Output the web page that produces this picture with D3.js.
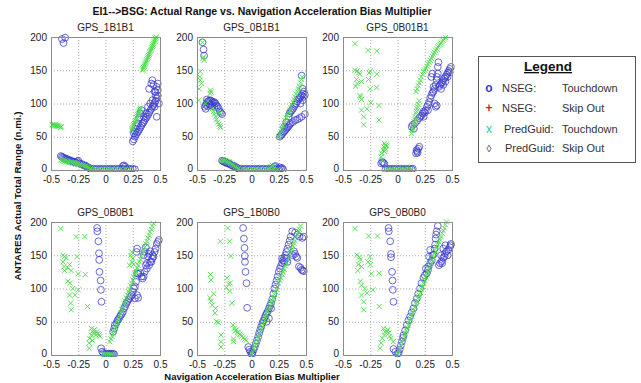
<!DOCTYPE html>
<html><head><meta charset="utf-8">
<script src="https://cdn.jsdelivr.net/npm/d3@7"></script>
<style>body{margin:0;background:#fff}svg{display:block;font-family:Arial,"Liberation Sans",sans-serif}</style>
</head><body><svg id="c" width="641" height="383"></svg>
<script>
const titles = ["GPS_1B1B1","GPS_0B1B1","GPS_0B01B1","GPS_0B0B1","GPS_1B0B0","GPS_0B0B0"];
const xTicks = [-0.5,-0.25,0,0.25,0.5];
const yTicks = [0,50,100,150,200];
const legendRows = [["o","NSEG:","Touchdown"],["+","NSEG:","Skip Out"],["x","PredGuid:","Touchdown"],["\u25CA","PredGuid:","Skip Out"]];

// Panel 1 GPS_1B1B1
const nseg1 = [[-0.40,197],[-0.37,199],[-0.385,191],
[-0.41,21],[-0.4,20],[-0.39,19],[-0.38,18],[-0.37,17],[-0.36,17],[-0.35,16],[-0.34,15],[-0.33,15],[-0.32,14],[-0.31,13],[-0.3,13],[-0.29,12],[-0.28,12],[-0.27,11],[-0.26,13],[-0.25,14],[-0.24,10],[-0.23,9],[-0.22,9],[-0.21,8],[-0.2,7],[-0.19,7],[-0.18,6],[-0.17,5],[-0.16,4],[-0.15,3],[-0.14,2],
[-0.13,1],[-0.11,2],[-0.09,1],[-0.07,2],[-0.05,1],[-0.03,2],[-0.01,1],[0.01,2],[0.03,1],[0.05,2],[0.07,1],[0.09,2],[0.11,1],[0.13,2],[0.15,1],[0.17,2],[0.19,1],[0.21,2],[0.23,1],[0.25,2],[0.27,1],[0.16,6],[0.17,7],[0.18,5],
[0.25,43],[0.26,46],[0.27,50],[0.28,53],[0.29,56],[0.3,58],[0.31,61],[0.32,64],[0.33,67],[0.34,70],[0.35,72],[0.36,75],[0.37,78],[0.38,80],[0.39,83],[0.4,86],[0.41,89],[0.42,92],[0.43,95],[0.44,98],[0.45,101],[0.46,104],[0.47,108],[0.48,112],
[0.26,55],[0.27,58],[0.28,62],[0.29,66],[0.3,70],[0.31,78],[0.32,85],[0.33,90],[0.35,80],[0.37,85],[0.39,95],[0.4,122],[0.42,130],[0.43,135],[0.44,128],[0.45,118],[0.46,112],[0.47,125],[0.48,130],[0.49,100],[0.47,80],[0.45,95],[0.41,100],[0.43,105],[0.46,117],[0.48,120]];
const pred1 = [[-0.49,68],[-0.48,68],[-0.47,67],[-0.465,68],[-0.46,67],[-0.45,67],[-0.445,66],[-0.44,66],[-0.43,66],[-0.42,65],[-0.41,64],[-0.405,65],
[-0.41,15],[-0.4,14],[-0.39,14],[-0.38,13],[-0.37,14],[-0.36,12],[-0.35,13],[-0.34,12],[-0.33,11],[-0.32,12],[-0.31,11],[-0.3,10],[-0.29,11],[-0.28,10],[-0.27,9],[-0.26,10],[-0.25,9],[-0.24,8],[-0.23,9],[-0.22,8],[-0.21,7],[-0.2,8],[-0.19,6],[-0.18,6],[-0.17,5],[-0.16,4],[-0.15,3],[-0.14,2],[-0.13,1],
[-0.12,0],[-0.1,1],[-0.08,0],[-0.06,1],[-0.04,0],[-0.02,1],[0,0],[0.02,1],[0.04,0],[0.06,1],[0.08,0],[0.1,1],[0.12,0],[0.14,1],[0.16,0],[0.18,1],[0.2,0],[0.22,1],
[0.24,60],[0.245,62],[0.25,64],[0.255,66],[0.26,68],[0.265,70],[0.27,72],[0.275,74],[0.28,76],[0.285,79],[0.29,81],[0.295,83],[0.3,85],[0.305,87],[0.31,89],[0.315,91],[0.32,93],
[0.34,150],[0.345,152],[0.35,154],[0.355,156],[0.36,158],[0.365,160],[0.37,162],[0.375,164],[0.38,166],[0.385,168],[0.39,170],[0.395,172],[0.4,174],[0.405,176],[0.41,178],[0.415,180],[0.42,182],[0.425,184],[0.43,186],[0.435,188],[0.44,190],[0.445,192],[0.45,194],[0.455,196],[0.46,198],[0.465,200]];

// Panel 2 GPS_0B1B1
const nseg2 = [[-0.45,192],[-0.44,181],[-0.435,172],
[-0.43,95],[-0.42,98],[-0.41,101],[-0.4,103],[-0.39,104],[-0.38,105],[-0.37,104],[-0.36,103],[-0.35,101],[-0.34,102],[-0.33,100],[-0.32,97],[-0.31,95],[-0.3,92],[-0.29,88],[-0.28,86],[-0.27,84],[-0.42,92],[-0.4,96],[-0.38,98],[-0.36,96],[-0.34,95],[-0.41,106],[-0.39,100],[-0.37,99],
[-0.27,14],[-0.26,13],[-0.25,12],[-0.24,12],[-0.23,11],[-0.22,10],[-0.21,10],[-0.2,9],[-0.19,8],[-0.18,7],[-0.17,6],[-0.16,6],[-0.15,5],[-0.14,4],[-0.13,3],[-0.12,2],
[-0.11,1],[-0.09,2],[-0.07,1],[-0.05,2],[-0.03,1],[-0.01,2],[0.01,1],[0.03,2],[0.05,1],[0.07,2],[0.09,1],[0.11,2],[0.13,1],[0.15,2],[0.17,1],[0.19,2],[0.21,1],[0.23,2],[0.25,1],[0.27,2],[0.29,1],[0.21,5],[0.22,6],[0.26,4],[0.28,3],
[0.26,50],[0.27,52],[0.28,54],[0.29,56],[0.3,58],[0.31,60],[0.32,62],[0.33,64],[0.34,66],[0.35,68],[0.36,70],[0.38,72],[0.4,75],[0.42,76],[0.44,78],[0.46,80],[0.49,84],
[0.3,65],[0.32,72],[0.34,80],[0.35,85],[0.36,88],[0.37,90],[0.38,92],[0.39,95],[0.4,98],[0.41,100],[0.42,103],[0.43,106],[0.44,108],[0.45,110],[0.46,112],[0.47,115],[0.48,118],[0.47,122],[0.46,142],[0.48,110],[0.49,113],[0.47,105],[0.45,100]];
const pred2 = [[-0.45,192],[-0.44,170],[-0.435,165],[-0.445,168],[-0.47,148],[-0.475,140],[-0.47,135],[-0.48,122],[-0.485,105],[-0.46,130],[-0.375,120],[-0.38,115],[-0.37,117],
[-0.36,92],[-0.35,88],[-0.34,84],[-0.33,80],[-0.32,76],[-0.31,72],[-0.3,69],[-0.29,66],[-0.285,64],[-0.3,88],[-0.29,85],[-0.42,100],[-0.4,104],
[-0.27,16],[-0.26,15],[-0.25,14],[-0.24,14],[-0.23,13],[-0.22,12],[-0.21,12],[-0.2,11],[-0.19,10],[-0.18,9],[-0.17,8],[-0.16,7],[-0.15,5],[-0.14,4],[-0.13,3],[-0.12,2],
[-0.1,0],[-0.08,1],[-0.06,0],[-0.04,1],[-0.02,0],[0,1],[0.02,0],[0.04,1],[0.06,0],[0.08,1],[0.1,0],[0.12,1],[0.14,0],[0.16,1],[0.18,0],[0.2,1],[0.22,0],[0.24,1],[0.19,7],[0.2,6],[0.18,5],
[0.25,50],[0.26,54],[0.27,58],[0.28,62],[0.29,66],[0.3,70],[0.31,74],[0.32,78],[0.33,82],[0.34,86],[0.35,90],[0.36,94],[0.37,98],[0.38,102],[0.39,106],[0.4,110],[0.41,114],[0.42,118],[0.43,122],[0.44,126],[0.45,131],[0.46,136],[0.465,140]];

// Panel 3 GPS_0B01B1
const nseg3 = [[-0.13,11],[-0.15,10],[-0.14,12],[-0.12,9],
[-0.11,1],[-0.09,2],[-0.07,1],[-0.05,2],[-0.03,1],[-0.01,2],[0.01,1],[0.03,2],[0.05,1],[0.07,2],[0.09,1],[0.11,2],[0.13,1],[0.14,2],
[0.17,25],[0.18,28],[0.19,32],[0.2,35],[0.175,30],[0.185,26],
[0.13,65],[0.14,68],[0.15,62],
[0.16,70],[0.18,74],[0.2,78],[0.21,80],[0.22,82],[0.23,85],[0.24,88],[0.25,86],[0.26,90],[0.27,95],[0.28,98],[0.29,102],[0.3,108],[0.31,112],[0.32,116],[0.33,118],[0.34,122],[0.35,128],[0.36,135],[0.37,145],[0.37,155],[0.375,162],[0.36,140],[0.33,125],[0.31,140],[0.32,145],[0.35,95],[0.36,97],[0.34,100],[0.24,80],[0.28,90],
[0.38,125],[0.39,128],[0.4,130],[0.41,132],[0.42,135],[0.43,138],[0.44,140],[0.45,143],[0.46,146],[0.47,149],[0.48,152],[0.49,155],[0.4,122],[0.42,128],[0.44,133],[0.46,140],[0.48,147]];
const pred3 = [[-0.39,190],[-0.39,150],[-0.37,149],[-0.355,146],[-0.345,144],[-0.375,136],[-0.37,130],[-0.385,126],[-0.33,133],[-0.345,112],[-0.33,106],[-0.33,90],[-0.31,80],[-0.31,68],[-0.27,180],[-0.19,179],[-0.25,149],[-0.265,136],[-0.25,122],[-0.28,92],[-0.245,101],[-0.19,144],[-0.19,124],[-0.17,97],[-0.17,75],[-0.34,110],[-0.26,146],
[-0.12,40],[-0.11,37],[-0.125,35],[-0.1,36],[-0.105,38],[-0.115,33],[-0.13,30],[-0.145,25],[-0.15,20],[-0.14,15],[-0.11,30],[-0.12,28],
[-0.1,0],[-0.085,1],[-0.07,0],[-0.055,1],[-0.04,0],[-0.025,1],[-0.01,0],[0.005,1],[0.02,0],[0.035,1],[0.05,0],[0.065,1],[0.08,0],[0.095,1],[0.11,0],[0.125,1],
[0.13,55],[0.14,60],[0.145,63],[0.15,68],[0.155,72],[0.16,76],[0.165,80],[0.17,85],[0.175,88],[0.18,92],[0.185,95],[0.19,99],[0.2,104],
[0.17,118],[0.18,122],[0.19,127],[0.2,131],[0.21,135],[0.22,140],[0.23,144],[0.24,148],[0.25,150],[0.26,153],[0.27,156],[0.28,159],[0.29,162],[0.3,165],[0.31,168],[0.32,171],[0.33,174],[0.34,177],[0.35,180],[0.36,182],[0.37,185],[0.38,187],[0.39,189],[0.4,191],[0.41,193],[0.42,195],[0.43,197],[0.44,199]];

// Panel 4 GPS_0B0B1
const nseg4 = [[-0.077,191],[-0.075,186],[-0.065,171],[-0.06,153],[-0.058,143],[-0.055,125],[-0.045,112],[-0.042,98],[-0.037,80],
[-0.04,10],[-0.03,5],[-0.02,3],
[0,1],[0.01,2],[0.02,1],[0.03,2],[0.04,1],[0.05,2],[0.06,1],[0.07,2],[0.08,1],
[0.07,35],[0.08,40],[0.086,45],[0.1,48],[0.11,52],[0.12,54],[0.13,57],[0.14,60],[0.15,62],[0.16,65],[0.17,70],[0.18,73],[0.19,77],[0.2,80],[0.21,83],[0.22,85],[0.23,88],[0.24,90],[0.25,95],[0.26,100],[0.27,103],[0.28,110],[0.29,123],[0.3,122],[0.32,123],[0.33,118],[0.34,115],[0.35,118],[0.36,125],[0.37,135],[0.38,138],[0.39,148],[0.4,152],[0.41,156],[0.42,140],[0.43,145],[0.44,148],[0.45,155],[0.46,160],[0.47,167],[0.48,170],[0.49,173],[0.3,86],[0.29,90],[0.27,85],[0.4,135],[0.38,130],[0.35,150],[0.36,155],[0.37,162],[0.285,155],[0.29,160],[0.41,140],[0.43,150]];
const pred4 = [[-0.41,190],[-0.39,150],[-0.375,148],[-0.36,146],[-0.39,140],[-0.375,127],[-0.345,131],[-0.33,136],[-0.315,127],[-0.345,111],[-0.325,108],[-0.33,90],[-0.3,100],[-0.32,78],[-0.315,68],[-0.27,178],[-0.19,178],[-0.26,148],[-0.25,122],[-0.28,90],[-0.25,98],[-0.185,121],[-0.165,73],[-0.38,133],
[-0.13,40],[-0.12,35],[-0.11,37],[-0.1,38],[-0.09,30],[-0.145,25],[-0.15,18],[-0.15,10],[-0.05,28],[-0.08,35],[-0.07,32],[-0.06,30],[-0.1,33],[-0.13,30],[-0.12,22],
[-0.02,1],[-0.01,0],[0,1],[0.01,0],[0.02,1],[0.03,0],[0.04,1],[0.05,0],[0.06,1],
[0.04,20],[0.05,24],[0.06,28],[0.07,32],[0.08,36],[0.09,41],[0.1,45],[0.11,50],[0.12,54],[0.13,59],[0.14,63],[0.15,68],[0.16,72],[0.17,77],[0.18,81],[0.19,86],[0.2,90],[0.21,95],[0.22,99],[0.23,104],[0.24,108],[0.25,113],[0.26,117],[0.27,122],[0.28,126],[0.29,131],[0.3,135],[0.31,140],[0.32,144],[0.33,149],[0.34,153],[0.35,158],[0.36,162],[0.37,167],[0.38,171],[0.39,176],[0.4,180],[0.41,185],[0.42,189],[0.43,194],[0.44,198],
[0.23,150],[0.25,145],[0.24,140],[0.22,135],[0.24,155],[0.26,136]];

// Panel 5 GPS_1B0B0
const nseg5 = [[-0.077,191],[-0.07,175],[-0.064,161],[-0.062,149],[-0.06,140],[-0.055,125],[-0.046,108],[-0.04,71],
[-0.03,12],[-0.02,8],[-0.01,5],[0,2],[0.005,1],
[0.01,4],[0.02,8],[0.03,12],[0.04,17],[0.05,22],[0.06,27],[0.07,33],[0.08,38],[0.09,43],[0.1,48],[0.11,52],[0.12,56],[0.13,60],[0.14,63],[0.15,66],[0.16,70],[0.17,74],[0.18,78],[0.19,84],[0.2,92],[0.21,100],[0.22,106],[0.23,112],[0.24,118],[0.25,125],[0.26,130],[0.27,134],[0.28,138],[0.29,142],[0.3,146],[0.31,150],[0.32,155],[0.33,160],[0.34,166],[0.35,172],[0.36,178],[0.14,50],[0.16,55],[0.18,70],[0.3,140],[0.32,145],[0.28,145],[0.33,140],
[0.374,186],[0.4,184],[0.42,181],[0.44,178],[0.466,176],[0.48,178],[0.39,156],[0.4,152],[0.42,146],[0.435,133],[0.45,131],[0.46,128],[0.47,127],[0.48,126],[0.38,150],[0.41,148]];
const pred5 = [[-0.377,121],[-0.37,113],[-0.38,86],[-0.37,81],[-0.347,92],[-0.33,70],[-0.335,63],[-0.32,50],[-0.305,49],[-0.28,30],[-0.28,20],[-0.28,12],[-0.285,171],[-0.218,191],[-0.2,171],[-0.19,149],[-0.224,116],[-0.21,107],[-0.2,96],[-0.18,78],[-0.23,101],[-0.195,108],[-0.36,75],
[-0.17,45],[-0.16,40],[-0.147,36],[-0.13,34],[-0.12,33],[-0.1,30],[-0.09,28],[-0.077,26],[-0.06,24],[-0.05,22],[-0.165,20],[-0.165,24],[-0.14,38],[-0.11,31],
[0,2],[0.01,5],[0.02,9],[0.03,13],[0.04,17],[0.05,22],[0.06,26],[0.07,30],[0.08,35],[0.09,39],[0.1,43],[0.11,48],[0.12,52],[0.13,56],[0.14,60],[0.15,65],[0.16,69],[0.17,73],[0.18,78],[0.19,82],[0.2,86],[0.21,91],[0.22,95],[0.23,99],[0.24,103],[0.25,108],[0.26,112],[0.27,116],[0.28,121],[0.29,125],[0.3,129],[0.31,134],[0.32,138],[0.33,142],[0.34,146],[0.35,151],[0.36,155],[0.37,159],[0.38,164],[0.39,168],[0.4,172],[0.41,177],[0.42,181],[0.43,185],[0.44,189],[0.45,194]];

// Panel 6 GPS_0B0B0
const nseg6 = [[-0.082,191],[-0.08,186],[-0.067,171],[-0.06,152],[-0.06,147],[-0.05,125],[-0.046,112],[-0.043,98],[-0.037,80],
[-0.037,9],[-0.02,5],[0,2],
[0.01,3],[0.02,8],[0.03,14],[0.04,20],[0.05,26],[0.055,30],[0.07,37],[0.085,45],[0.1,52],[0.116,58],[0.13,64],[0.146,70],[0.16,78],[0.177,85],[0.19,92],[0.207,100],[0.22,108],[0.238,116],[0.25,120],[0.268,123],[0.283,133],[0.3,138],[0.314,142],[0.33,151],[0.34,160],[0.345,166],[0.35,175],[0.354,181],[0.36,186],[0.37,194],[0.3,158],[0.29,148],[0.32,150],[0.26,130],[0.28,128],
[0.38,135],[0.39,138],[0.405,141],[0.42,146],[0.436,153],[0.45,156],[0.466,158],[0.48,162],[0.488,165],[0.49,167],[0.4,150],[0.42,160],[0.44,165],[0.41,138],[0.43,148],[0.46,150]];
const pred6 = [[-0.39,190],[-0.37,150],[-0.35,147],[-0.34,143],[-0.36,136],[-0.365,127],[-0.33,133],[-0.34,111],[-0.33,105],[-0.33,90],[-0.3,100],[-0.31,80],[-0.31,68],[-0.265,179],[-0.183,179],[-0.25,148],[-0.25,136],[-0.24,122],[-0.28,93],[-0.225,98],[-0.168,123],[-0.168,73],[-0.27,140],
[-0.128,40],[-0.115,35],[-0.09,38],[-0.08,33],[-0.14,25],[-0.15,18],[-0.16,10],[-0.07,28],[-0.04,20],[-0.1,36],[-0.12,30],[-0.06,25],
[0,2],[0.01,6],[0.02,10],[0.03,14],[0.04,19],[0.05,23],[0.06,28],[0.07,32],[0.08,36],[0.09,41],[0.1,45],[0.11,50],[0.12,54],[0.13,59],[0.14,63],[0.15,68],[0.16,72],[0.17,77],[0.18,81],[0.19,86],[0.2,90],[0.21,94],[0.22,99],[0.23,103],[0.24,108],[0.25,112],[0.26,117],[0.27,121],[0.28,126],[0.29,130],[0.3,135],[0.31,139],[0.32,143],[0.33,147],[0.34,152],[0.35,156],[0.36,161],[0.37,165],[0.38,170],[0.39,174],[0.4,178],[0.41,183],[0.42,187],[0.43,191],[0.44,196],[0.45,200]];

const nsegSets = [nseg1,nseg2,nseg3,nseg4,nseg5,nseg6];
const predSets = [pred1,pred2,pred3,pred4,pred5,pred6];

const svg = d3.select("#c");
const colLeft = [51,197,343], rowTop = [37,222], pw = 109, ph = 133;
const blue = "#3a3acc", green = "#4cdc4c", axisCol = "#8c8c8c", txt = "#222";

titles.forEach((t,i)=>{
  const c = i%3, r = Math.floor(i/3);
  const g = svg.append("g").attr("transform",`translate(${colLeft[c]},${rowTop[r]})`);
  const x = d3.scaleLinear().domain([-0.5,0.5]).range([0,pw]);
  const y = d3.scaleLinear().domain([0,200]).range([ph,0]);
  g.append("g").selectAll("line").data(xTicks.slice(1,-1)).join("line")
    .attr("x1",d=>x(d)+0.5).attr("x2",d=>x(d)+0.5).attr("y1",0).attr("y2",ph)
    .attr("stroke","#aaa").attr("stroke-dasharray","1,2");
  g.append("g").selectAll("line").data(yTicks.slice(1,-1)).join("line")
    .attr("y1",d=>y(d)+0.5).attr("y2",d=>y(d)+0.5).attr("x1",0).attr("x2",pw)
    .attr("stroke","#aaa").attr("stroke-dasharray","1,2");
  g.append("clipPath").attr("id","cp"+i).append("rect").attr("x",-4).attr("y",-4).attr("width",pw+8).attr("height",ph+6);
  const m = g.append("g").attr("clip-path",`url(#cp${i})`);
  m.selectAll("circle").data(nsegSets[i]).join("circle")
    .attr("cx",d=>x(d[0])).attr("cy",d=>y(d[1])).attr("r",3.4)
    .attr("fill","none").attr("stroke",blue).attr("stroke-width",0.9).attr("stroke-opacity",0.85);
  m.selectAll("path").data(predSets[i]).join("path")
    .attr("d",d=>{const cx=x(d[0]),cy=y(d[1]),s=2.6;return `M${cx-s},${cy-s}L${cx+s},${cy+s}M${cx-s},${cy+s}L${cx+s},${cy-s}`;})
    .attr("stroke",green).attr("stroke-width",0.9).attr("fill","none");
  const ax = d3.axisBottom(x).tickValues(xTicks).tickFormat(d=>d===0?"0":String(d)).tickSize(0).tickPadding(6);
  const ay = d3.axisLeft(y).tickValues(yTicks).tickSize(0).tickPadding(4);
  const gx = g.append("g").attr("transform",`translate(0,${ph})`).call(ax);
  const gy = g.append("g").call(ay);
  [gx,gy].forEach(a=>{a.select(".domain").remove();a.selectAll("text").attr("fill",txt).style("font-size","10px").style("font-family","Arial,'Liberation Sans',sans-serif");});
  gy.selectAll(".tick").filter(d=>d===0).select("text").attr("dy","0.1em");
  g.append("rect").attr("x",0.5).attr("y",0.5).attr("width",pw).attr("height",ph).attr("fill","none").attr("stroke",axisCol);
  g.append("text").attr("x",pw/2).attr("y",-6).attr("text-anchor","middle").attr("fill",txt).style("font-size","10px").text(t);
});

svg.append("text").attr("x",262).attr("y",15).attr("text-anchor","middle").attr("font-weight","bold").style("font-size","10.5px").attr("fill","#111")
  .text("EI1-->BSG: Actual Range vs. Navigation Acceleration Bias Multiplier");
svg.append("text").attr("transform","translate(21,196) rotate(-90)").attr("text-anchor","middle").attr("font-weight","bold").style("font-size","9.8px").attr("fill","#111")
  .text("ANTARES Actual Total Range (n.mi.)");
svg.append("text").attr("x",252).attr("y",380).attr("text-anchor","middle").attr("font-weight","bold").style("font-size","9.5px").attr("fill","#111")
  .text("Navigation Acceleration Bias Multiplier");

const lg = svg.append("g");
lg.append("rect").attr("x",478.5).attr("y",56.5).attr("width",157).attr("height",106).attr("fill","#fff").attr("stroke","#555");
lg.append("text").attr("x",548).attr("y",71).attr("text-anchor","middle").attr("font-weight","bold").style("font-size","13.5px").attr("fill","#111").attr("text-decoration","underline").text("Legend");
const markCol = [blue,"#cc2222","#22ccaa","#333"];
const rowY = [92,112,133,152], labX = [502,502,504,505];
legendRows.forEach((r,i)=>{
  lg.append("text").attr("x",489).attr("y",rowY[i]).attr("text-anchor","middle").attr("fill",markCol[i]).attr("font-weight",i<2?"bold":"normal").style("font-size",i===3?"10px":"12px").text(r[0]);
  lg.append("text").attr("x",labX[i]).attr("y",rowY[i]).attr("fill","#333").style("font-size","11px").text(r[1]);
  lg.append("text").attr("x",562).attr("y",rowY[i]).attr("fill","#333").style("font-size","11px").text(r[2]);
});
</script></body></html>
